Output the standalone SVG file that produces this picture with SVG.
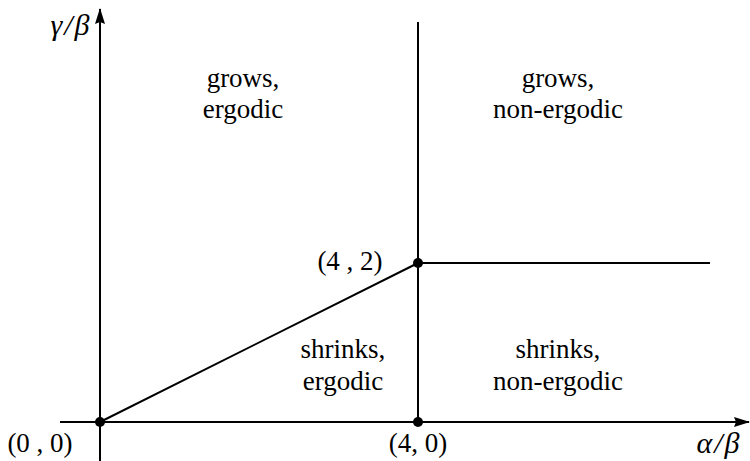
<svg xmlns="http://www.w3.org/2000/svg" width="750" height="461" viewBox="0 0 750 461">
<style>
.ln{stroke:#000;stroke-width:2;fill:none}
text{font-family:'Liberation Serif','Times New Roman','DejaVu Serif',serif;font-size:27px;fill:#000}
.it{font-style:italic;font-size:30px;letter-spacing:2px}
.c{text-anchor:middle}
</style>
<defs>
<marker id="ah" viewBox="0 0 16 10" refX="15" refY="5" markerWidth="16" markerHeight="10" markerUnits="userSpaceOnUse" orient="auto">
<path d="M0,0 L16,5 L0,10 L2,5 z" fill="#000"/>
</marker>
</defs>
<rect width="750" height="461" fill="#fff"/>
<g id="connectors">
<line class="ln" x1="60" y1="422" x2="749" y2="422" marker-end="url(#ah)"/>
<line class="ln" x1="100" y1="461" x2="100" y2="9" marker-end="url(#ah)"/>
<line class="ln" x1="418" y1="22" x2="418" y2="422"/>
<line class="ln" x1="418" y1="263" x2="710" y2="263"/>
<line class="ln" x1="100" y1="422" x2="418" y2="263"/>
</g>
<g id="p00"><circle cx="100" cy="422" r="5"/><text x="40" y="452" class="c">(0 , 0)</text></g>
<g id="p42"><circle cx="418" cy="263" r="5"/><text x="350" y="270" class="c">(4 , 2)</text></g>
<g id="p40"><circle cx="418" cy="422" r="5"/><text x="418" y="452" class="c">(4, 0)</text></g>
<g id="yaxis"><text x="71" y="35" class="c it">γ/β</text></g>
<g id="xaxis"><text x="719" y="453" class="c it">α/β</text></g>
<g id="r1"><text x="243" y="87" class="c">grows,</text><text x="243" y="118" class="c">ergodic</text></g>
<g id="r2"><text x="558" y="87" class="c">grows,</text><text x="558" y="118" class="c">non-ergodic</text></g>
<g id="r3"><text x="343" y="358" class="c">shrinks,</text><text x="343" y="390" class="c">ergodic</text></g>
<g id="r4"><text x="558" y="358" class="c">shrinks,</text><text x="558" y="390" class="c">non-ergodic</text></g>
</svg>
